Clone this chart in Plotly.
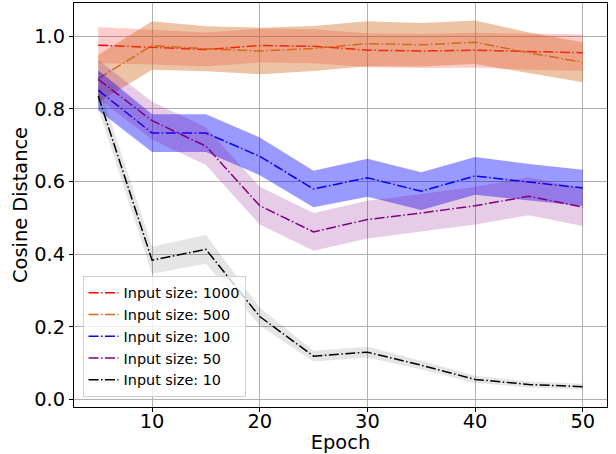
import plotly.graph_objects as go

epochs = [5, 10, 15, 20, 25, 30, 35, 40, 45, 50]

labels = ["Input size: 1000", "Input size: 500", "Input size: 100", "Input size: 50", "Input size: 10"]

mean_1000 = [0.975, 0.970, 0.963, 0.974, 0.972, 0.961, 0.959, 0.961, 0.957, 0.954]
std_1000 = [0.050, 0.048, 0.047, 0.047, 0.047, 0.047, 0.047, 0.048, 0.050, 0.050]

mean_500 = [0.883, 0.974, 0.965, 0.959, 0.966, 0.979, 0.976, 0.983, 0.954, 0.928]
std_500 = [0.065, 0.067, 0.062, 0.064, 0.062, 0.062, 0.060, 0.060, 0.056, 0.055]

mean_100 = [0.851, 0.733, 0.733, 0.669, 0.579, 0.610, 0.573, 0.615, 0.598, 0.582]
std_100 = [0.055, 0.052, 0.052, 0.052, 0.050, 0.052, 0.052, 0.052, 0.050, 0.050]

mean_50 = [0.881, 0.767, 0.697, 0.533, 0.461, 0.495, 0.513, 0.533, 0.559, 0.529]
std_50 = [0.053, 0.052, 0.052, 0.052, 0.052, 0.052, 0.052, 0.052, 0.052, 0.052]

mean_10 = [0.835, 0.383, 0.413, 0.228, 0.119, 0.130, 0.094, 0.055, 0.041, 0.035]
std_10 = [0.035, 0.037, 0.040, 0.025, 0.015, 0.015, 0.012, 0.010, 0.008, 0.008]

series = [
    (labels[0], mean_1000, std_1000, "red", "rgba(255,0,0,0.2)"),
    (labels[1], mean_500, std_500, "chocolate", "rgba(210,105,30,0.4)"),
    (labels[2], mean_100, std_100, "blue", "rgba(0,0,255,0.4)"),
    (labels[3], mean_50, std_50, "purple", "rgba(128,0,128,0.2)"),
    (labels[4], mean_10, std_10, "black", "rgba(0,0,0,0.1)"),
]

fig = go.Figure()
for name, m, s, col, fcol in series:
    upper = [a + b for a, b in zip(m, s)]
    lower = [a - b for a, b in zip(m, s)]
    fig.add_trace(go.Scatter(
        x=epochs + epochs[::-1], y=upper + lower[::-1],
        fill="toself", fillcolor=fcol, line=dict(width=0),
        mode="lines", showlegend=False, hoverinfo="skip"))
    fig.add_trace(go.Scatter(
        x=epochs, y=m, mode="lines", name=name,
        line=dict(color=col, width=1.5, dash="10px,2.5px,1.5px,2.5px")))

FS = 19.4
axis_common = dict(
    showline=True, linecolor="black", linewidth=1, mirror=True,
    showgrid=True, gridcolor="#b0b0b0", gridwidth=1,
    ticks="outside", ticklen=4, tickcolor="black",
    tickfont=dict(family="DejaVu Sans", size=FS, color="black"),
    zeroline=False,
)

fig.update_xaxes(range=[2.75, 52.25], tickvals=[10, 20, 30, 40, 50],
                 ticklabelstandoff=-7,
                 title=dict(text="Epoch", font=dict(family="DejaVu Sans", size=FS, color="black"), standoff=1),
                 **axis_common)
fig.update_yaxes(range=[-0.021, 1.091], tickvals=[0.0, 0.2, 0.4, 0.6, 0.8, 1.0], tickformat=".1f",
                 title=dict(text="Cosine Distance", font=dict(family="DejaVu Sans", size=FS, color="black"), standoff=1),
                 **axis_common)

fig.update_layout(
    width=616, height=454,
    margin=dict(l=74, r=9, t=3, b=47, autoexpand=False),
    paper_bgcolor="white", plot_bgcolor="white",
    font=dict(family="DejaVu Sans", color="black"),
    legend=dict(x=0.016, y=0.025, xanchor="left", yanchor="bottom",
                bgcolor="rgba(255,255,255,0.8)", bordercolor="#d0d0d0", borderwidth=1,
                font=dict(family="DejaVu Sans", size=14.4, color="black"),
                itemwidth=30),
)

fig.write_html("out.html", config={"displayModeBar": False},
               post_script="document.body.style.margin='0px';document.body.style.overflow='hidden';")
